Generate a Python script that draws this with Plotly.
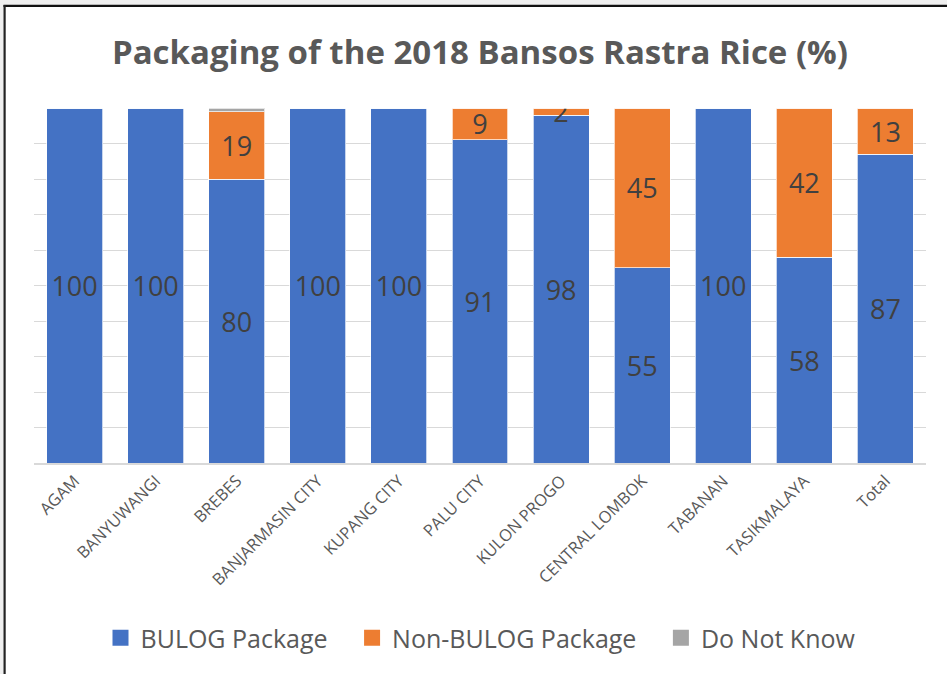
import plotly.graph_objects as go

categories = ["AGAM", "BANYUWANGI", "BREBES", "BANJARMASIN CITY", "KUPANG CITY",
              "PALU CITY", "KULON PROGO", "CENTRAL LOMBOK", "TABANAN", "TASIKMALAYA", "Total"]
bulog = [100, 100, 80, 100, 100, 91, 98, 55, 100, 58, 87]
non_bulog = [0, 0, 19, 0, 0, 9, 2, 45, 0, 42, 13]
do_not_know = [0, 0, 1, 0, 0, 0, 0, 0, 0, 0, 0]

NB = "\u00a0"
series = [
    ("BULOG Package", bulog, "#4472C4", True),
    ("Non-BULOG Package", non_bulog, "#ED7D31", True),
    ("Do Not Know", do_not_know, "#A5A5A5", False),
]

W, H = 947, 674
L, R, T, B = 34, 21, 108, 211
pw, ph = W - L - R, H - T - B

def px_x(px):
    return (px - L) / pw

def px_y(py):
    return (H - B - py) / ph

fig = go.Figure()
for name, vals, color, labelled in series:
    texts = [str(v) if (labelled and v > 0) else "" for v in vals]
    fig.add_trace(go.Bar(
        name=name, x=categories, y=vals, showlegend=False,
        marker=dict(color=color, line=dict(color="rgba(255,255,255,0.7)", width=1)),
        text=texts, texttemplate="%{text}",
        textposition="inside", insidetextanchor="middle",
        textangle=0, constraintext="none",
        insidetextfont=dict(family="Open Sans", size=27, color="#404040"),
        hoverinfo="skip",
    ))

# legend entries with larger square swatches
for i, (name, vals, color, labelled) in enumerate(series):
    label = name + (NB * 3 if i < len(series) - 1 else "")
    fig.add_trace(go.Scatter(
        name=label, x=[None], y=[None], mode="markers",
        marker=dict(symbol="square", size=16, color=color),
        showlegend=True, hoverinfo="skip",
    ))

shapes = [
    dict(type="rect", xref="paper", yref="paper", x0=px_x(0), x1=px_x(W), y0=px_y(0), y1=px_y(5),
         fillcolor="#efefef", line=dict(width=0), layer="above"),
    dict(type="rect", xref="paper", yref="paper", x0=px_x(0), x1=px_x(3.5), y0=px_y(0), y1=px_y(H),
         fillcolor="#efefef", line=dict(width=0), layer="above"),
    dict(type="line", xref="paper", yref="paper", x0=px_x(3.5), x1=px_x(W), y0=px_y(5.8), y1=px_y(5.8),
         line=dict(color="#111111", width=2.2), layer="above"),
    dict(type="line", xref="paper", yref="paper", x0=px_x(4.6), x1=px_x(4.6), y0=px_y(5), y1=px_y(H),
         line=dict(color="#222222", width=2.2), layer="above"),
]

fig.update_layout(
    width=W, height=H,
    margin=dict(l=L, r=R, t=T, b=B, autoexpand=False),
    barmode="stack", bargap=0.31,
    paper_bgcolor="white", plot_bgcolor="white",
    font=dict(family="Open Sans", color="#595959"),
    uniformtext=dict(minsize=27, mode="show"),
    title=dict(text="<b>Packaging of the 2018 Bansos Rastra Rice (%)</b>",
               x=0.5, xref="paper", xanchor="center",
               y=1 - 52 / H, yref="container", yanchor="middle",
               font=dict(family="Open Sans", size=33, color="#595959")),
    xaxis=dict(tickangle=-45, tickfont=dict(family="Open Sans", size=16.5, color="#595959"),
               showline=True, linecolor="#d9d9d9", linewidth=1.5, ticks="",
               showgrid=False, fixedrange=True),
    yaxis=dict(range=[0, 100], dtick=10, showticklabels=False, showgrid=True,
               gridcolor="#d9d9d9", gridwidth=1.2, zeroline=False, ticks="", fixedrange=True),
    legend=dict(orientation="h", x=px_x(481), xanchor="center", y=px_y(638), yanchor="middle",
                font=dict(family="Open Sans", size=25, color="#595959"),
                traceorder="normal", itemsizing="trace"),
    shapes=shapes,
)

fig.write_html("out.html", config={"displayModeBar": False},
               post_script="document.body.style.margin='0';document.body.style.overflow='hidden';")
